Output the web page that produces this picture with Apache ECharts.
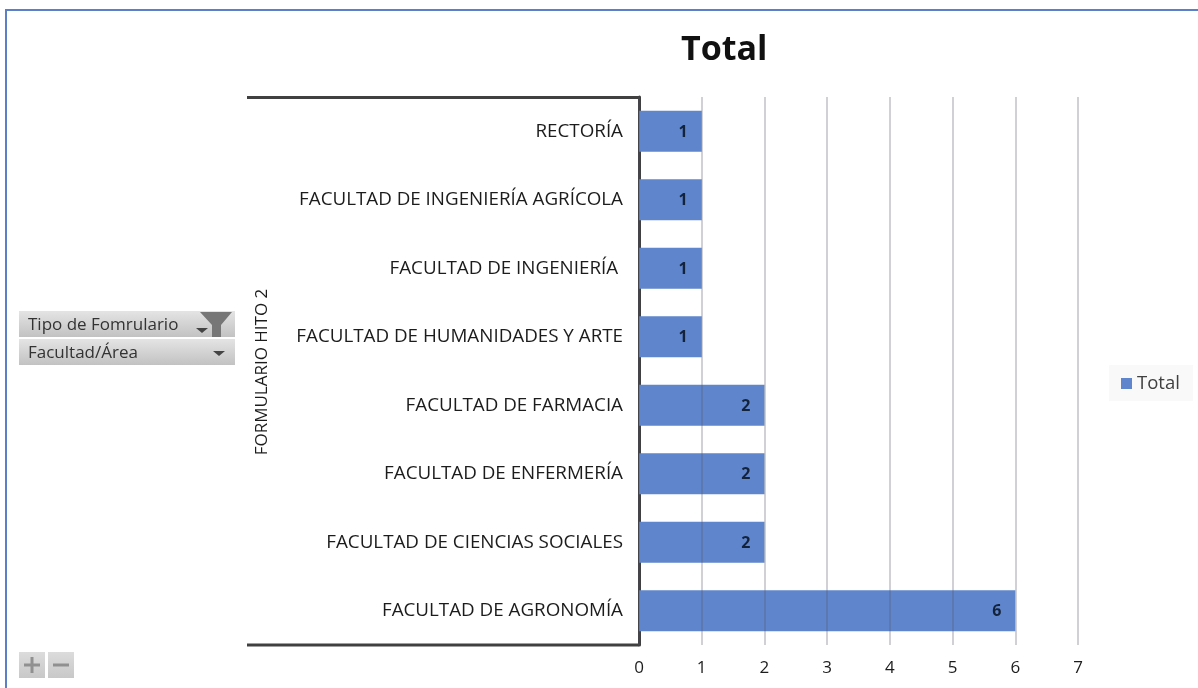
<!DOCTYPE html>
<html><head><meta charset="utf-8">
<style>html,body{margin:0;padding:0;background:#fff}#c{width:1198px;height:688px}</style>
<script src="https://cdn.jsdelivr.net/npm/echarts@6/dist/echarts.min.js"></script>
</head><body><div id="c"></div>
<script>
const categories = ["FACULTAD DE AGRONOMÍA","FACULTAD DE CIENCIAS SOCIALES","FACULTAD DE ENFERMERÍA","FACULTAD DE FARMACIA","FACULTAD DE HUMANIDADES Y ARTE","FACULTAD DE INGENIERÍA ","FACULTAD DE INGENIERÍA AGRÍCOLA","RECTORÍA"];
const totals = [6,2,2,2,1,1,1,1];
const xTicks = [0,1,2,3,4,5,6,7];
const seriesName = "Total";
const levelLabel = "FORMULARIO HITO 2";
const filterLabels = ["Tipo de Fomrulario","Facultad/Área"];
const FONT = '"Open Sans","Noto Sans",sans-serif';
const grad = {type:'linear',x:0,y:0,x2:0,y2:1,colorStops:[{offset:0,color:'#e4e4e4'},{offset:1,color:'#c2c2c2'}]};
const gradBtn = {type:'linear',x:0,y:0,x2:0,y2:1,colorStops:[{offset:0,color:'#dcdcdc'},{offset:1,color:'#c8c8c8'}]};
const tri = (cx,cy,col)=>({type:'polygon',shape:{points:[[cx-6,cy-2],[cx+6,cy-2],[cx,cy+3]]},style:{fill:col||'#444'}});
const chart = echarts.init(document.getElementById('c'),null,{renderer:'canvas'});
chart.setOption({
  animation:false,
  backgroundColor:'#fff',
  title:{text:seriesName,left:676,top:28,textStyle:{fontFamily:FONT,fontSize:34,fontWeight:'bold',color:'#111'}},
  legend:{data:[seriesName],left:1109,top:365,padding:[9,13,8,12],backgroundColor:'#f9f9f9',icon:'rect',itemWidth:11,itemHeight:11,itemGap:5,textStyle:{fontFamily:FONT,fontSize:18.5,color:'#404040'}},
  grid:{left:639,top:97,width:439,height:548,containLabel:false},
  xAxis:{type:'value',min:0,max:7,interval:1,z:3,
    axisLine:{show:false},axisTick:{show:false},
    splitLine:{show:true,lineStyle:{color:'rgba(85,85,100,0.36)',width:1.5}},
    axisLabel:{formatter:v=>xTicks[v],margin:15,fontFamily:FONT,fontSize:17,color:'#1c1c1c'}},
  yAxis:{type:'category',data:categories,
    axisLine:{show:true,lineStyle:{color:'#404040',width:3}},axisTick:{show:false},
    axisLabel:{margin:16,fontFamily:FONT,fontSize:18.8,color:'#1c1c1c',padding:[0,0,4,0]}},
  series:[{name:seriesName,type:'bar',data:totals,barCategoryGap:'40%',
    itemStyle:{color:'#5f86cc'},
    label:{show:true,position:'insideRight',distance:14,offset:[0,1],fontFamily:FONT,fontSize:16,fontWeight:'bold',color:'#14233c'}}],
  graphic:[
    {type:'rect',silent:true,shape:{x:6,y:10,width:1200,height:700},style:{fill:'none',stroke:'#5b80c8',lineWidth:2}},
    {type:'line',shape:{x1:247,y1:97.5,x2:639,y2:97.5},style:{stroke:'#404040',lineWidth:3}},
    {type:'line',shape:{x1:247,y1:645,x2:639,y2:645},style:{stroke:'#404040',lineWidth:3}},
    {type:'text',x:262,y:372,rotation:Math.PI/2,style:{text:levelLabel,font:'17px '+FONT,fill:'#1c1c1c',align:'center',verticalAlign:'middle'}},
    {type:'rect',shape:{x:19,y:311,width:216,height:26},style:{fill:grad}},
    {type:'rect',shape:{x:19,y:339,width:216,height:26},style:{fill:grad}},
    {type:'text',x:28,y:325,style:{text:filterLabels[0],font:'17px '+FONT,fill:'#333',verticalAlign:'middle'}},
    {type:'text',x:28,y:353,style:{text:filterLabels[1],font:'17px '+FONT,fill:'#333',verticalAlign:'middle'}},
    tri(202,330), tri(219,353),
    {type:'polygon',shape:{points:[[200,312],[232,312],[221,325],[221,337],[212,337],[212,325]]},style:{fill:'#777'}},
    {type:'rect',shape:{x:19,y:652,width:26,height:26},style:{fill:gradBtn}},
    {type:'rect',shape:{x:48,y:652,width:26,height:26},style:{fill:gradBtn}},
    {type:'rect',shape:{x:24,y:663.5,width:16,height:3},style:{fill:'#909090'}},
    {type:'rect',shape:{x:30.5,y:657,width:3,height:16},style:{fill:'#909090'}},
    {type:'rect',shape:{x:53,y:663.5,width:16,height:3},style:{fill:'#909090'}}
  ]
});
</script></body></html>
